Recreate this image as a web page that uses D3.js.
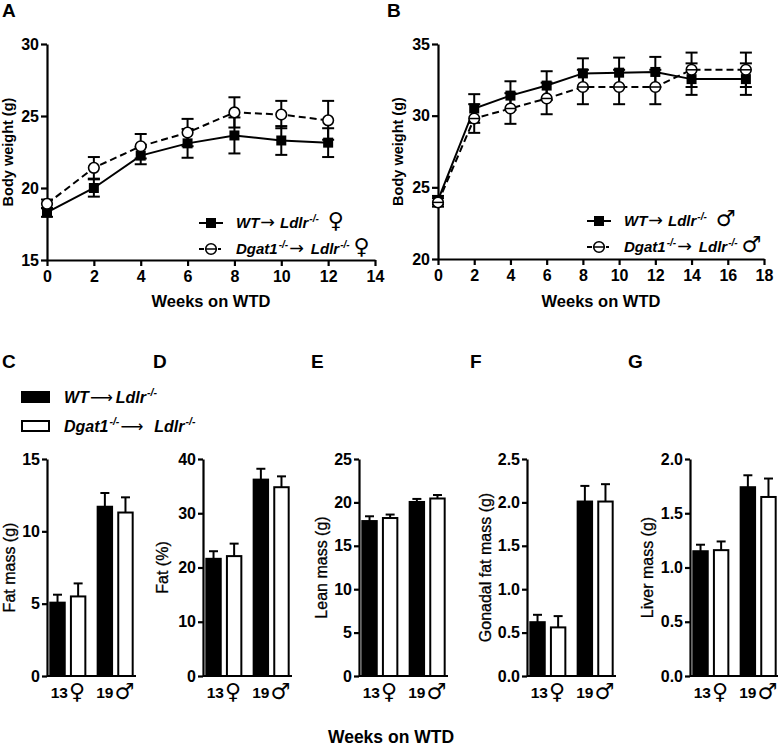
<!DOCTYPE html>
<html><head><meta charset="utf-8">
<script src="https://cdn.jsdelivr.net/npm/d3@7"></script>
<style>
html,body{margin:0;padding:0;background:#fff;}
svg{display:block;font-family:"Liberation Sans",Arial,sans-serif;}
</style></head>
<body>
<svg id="chart" width="778" height="746"></svg>
<script>
// ---------- DATA ----------
const weeksA = [0, 2, 4, 6, 8, 10, 12];
const wtA = [18.3, 20.0, 22.25, 23.1, 23.65, 23.3, 23.15];
const wtAErr = [0.3, 0.6, 0.6, 1.0, 1.25, 1.0, 1.0];
const dgA = [18.9, 21.4, 22.9, 23.85, 25.25, 25.1, 24.7];
const dgAErr = [0.3, 0.75, 0.85, 0.95, 1.05, 0.95, 1.35];

const weeksB = [0, 2, 4, 6, 8, 10, 12, 14, 17];
const wtB = [24.1, 30.5, 31.4, 32.1, 32.95, 33.0, 33.05, 32.55, 32.55];
const wtBErr = [0.3, 1.0, 1.0, 1.0, 1.05, 1.05, 1.05, 1.1, 1.1];
const dgB = [23.95, 29.8, 30.5, 31.2, 32.0, 32.0, 32.0, 33.2, 33.2];
const dgBErr = [0.3, 1.0, 1.07, 1.1, 1.2, 1.2, 1.2, 1.2, 1.2];

const xTicksA = [0, 2, 4, 6, 8, 10, 12, 14];
const yTicksA = [15, 20, 25, 30];
const xTicksB = [0, 2, 4, 6, 8, 10, 12, 14, 16, 18];
const yTicksB = [20, 25, 30, 35];

const barGroups = ["13", "19"];
const barSex = ["\u2640", "\u2642"];
const barSeries = ["wt", "dg"];

const fatMassWT = [5.07, 11.7], fatMassWTErr = [0.55, 0.95];
const fatMassDG = [5.5, 11.3], fatMassDGErr = [0.9, 1.05];
const fatPctWT = [21.6, 36.2], fatPctWTErr = [1.4, 2.0];
const fatPctDG = [22.1, 34.8], fatPctDGErr = [2.3, 2.0];
const leanWT = [17.85, 20.05], leanWTErr = [0.55, 0.35];
const leanDG = [18.2, 20.45], leanDGErr = [0.4, 0.4];
const gonWT = [0.62, 2.01], gonWTErr = [0.085, 0.18];
const gonDG = [0.56, 2.01], gonDGErr = [0.13, 0.2];
const liverWT = [1.15, 1.74], liverWTErr = [0.06, 0.11];
const liverDG = [1.16, 1.65], liverDGErr = [0.08, 0.17];

const ticksC = [0, 5, 10, 15];
const ticksD = [0, 10, 20, 30, 40];
const ticksE = [0, 5, 10, 15, 20, 25];
const ticksF = [0, 0.5, 1.0, 1.5, 2.0, 2.5];
const ticksG = [0, 0.5, 1.0, 1.5, 2.0];

// ---------- DRAW ----------
const svg = d3.select("#chart");
const FONT = "Liberation Sans, Arial, sans-serif";
const SYM = "DejaVu Sans";

function labelText(g, x, y, txt) {
  g.append("text").attr("x", x).attr("y", y).attr("font-size", 19)
    .attr("font-weight", "bold").attr("font-family", FONT).text(txt);
}

// Appends "WT→ Ldlr-/-" or "Dgat1-/-→  Ldlr-/-" to a text element
function genotype(t, isDgat, c) {
  const arrow = (dx) => t.append("tspan").text(c.arrow).attr("font-family", SYM).attr("font-style", "normal")
    .attr("font-weight", "normal").attr("font-size", c.arrowSize).attr("dx", dx);
  if (isDgat) {
    t.append("tspan").text("Dgat1");
    t.append("tspan").text("-/-").attr("font-size", c.sup).attr("dy", -c.supDy).attr("dx", 1);
    arrow(1).attr("dy", c.supDy);
    t.append("tspan").text("Ldlr").attr("dx", c.gap2);
  } else {
    t.append("tspan").text("WT");
    arrow(1);
    t.append("tspan").text("Ldlr").attr("dx", c.gap1);
  }
  t.append("tspan").text("-/-").attr("font-size", c.sup).attr("dy", -c.supDy).attr("dx", 1);
}

function linePanel(opt) {
  const g = svg.append("g");
  const x = d3.scaleLinear().domain(opt.xDomain).range([opt.left, opt.right]);
  const y = d3.scaleLinear().domain(opt.yDomain).range([opt.bottom, opt.top]);

  const xa = g.append("g").attr("transform", `translate(0,${opt.bottom})`)
    .call(d3.axisBottom(x).tickValues(opt.xTicks).tickSize(6).tickSizeOuter(0).tickPadding(5));
  const ya = g.append("g").attr("transform", `translate(${opt.left},0)`)
    .call(d3.axisLeft(y).tickValues(opt.yTicks).tickSize(6).tickSizeOuter(0).tickPadding(2));
  [xa, ya].forEach(a => {
    a.select(".domain").attr("stroke", "#000").attr("stroke-width", 2.2);
    a.selectAll(".tick line").attr("stroke", "#000").attr("stroke-width", 2.2);
    a.selectAll(".tick text").attr("font-size", 16).attr("font-weight", "bold")
      .attr("font-family", FONT).attr("fill", "#000");
  });

  g.append("text").attr("x", (opt.left + opt.right) / 2).attr("y", 307)
    .attr("text-anchor", "middle").attr("font-size", 16.5).attr("font-weight", "bold")
    .attr("font-family", FONT).text("Weeks on WTD");
  g.append("text").attr("transform", `translate(${opt.ytX},${(opt.top + opt.bottom) / 2}) rotate(-90)`)
    .attr("text-anchor", "middle").attr("font-size", 14.5).attr("font-weight", "bold")
    .attr("font-family", FONT).text("Body weight (g)");

  const series = [
    { xs: opt.weeks, v: opt.wt, e: opt.wtErr, dash: null, mk: "sq" },
    { xs: opt.weeks, v: opt.dg, e: opt.dgErr, dash: "7,4", mk: "ci" }
  ];
  const line = d3.line().x(d => x(d[0])).y(d => y(d[1]));
  series.forEach(s => {
    const pts = s.xs.map((w, i) => [w, s.v[i], s.e[i]]);
    g.append("path").datum(pts).attr("d", line).attr("fill", "none")
      .attr("stroke", "#000").attr("stroke-width", 2)
      .attr("stroke-dasharray", s.dash);
    s.pts = pts;
  });
  series.forEach(s => {
    const eb = g.append("g").attr("stroke", "#000").attr("stroke-width", 2);
    s.pts.forEach(p => {
      const cx = x(p[0]), y1 = y(p[1] + p[2]), y2 = y(p[1] - p[2]);
      eb.append("line").attr("x1", cx).attr("x2", cx).attr("y1", y1).attr("y2", y2);
      eb.append("line").attr("x1", cx - 6).attr("x2", cx + 6).attr("y1", y1).attr("y2", y1);
      eb.append("line").attr("x1", cx - 6).attr("x2", cx + 6).attr("y1", y2).attr("y2", y2);
    });
  });
  series.forEach(s => {
    s.pts.forEach(p => {
      const cx = x(p[0]), cy = y(p[1]);
      if (s.mk === "sq") {
        g.append("rect").attr("x", cx - 5).attr("y", cy - 5).attr("width", 10).attr("height", 10).attr("fill", "#000");
      } else {
        g.append("circle").attr("cx", cx).attr("cy", cy).attr("r", 5.3)
          .attr("fill", "#fff").attr("stroke", "#000").attr("stroke-width", 1.6);
        if (opt.bar) g.append("line").attr("x1", cx - 5).attr("x2", cx + 5).attr("y1", cy).attr("y2", cy)
          .attr("stroke", "#000").attr("stroke-width", 1.5);
      }
    });
  });

  // legend
  const lg = g.append("g").attr("font-family", FONT);
  const rows = [opt.legY, opt.legY + 26];
  lg.append("line").attr("x1", opt.legX).attr("x2", opt.legX + 24).attr("y1", rows[0]).attr("y2", rows[0])
    .attr("stroke", "#000").attr("stroke-width", 2);
  lg.append("rect").attr("x", opt.legX + 7).attr("y", rows[0] - 5).attr("width", 10).attr("height", 10).attr("fill", "#000");
  lg.append("line").attr("x1", opt.legX).attr("x2", opt.legX + 5).attr("y1", rows[1]).attr("y2", rows[1])
    .attr("stroke", "#000").attr("stroke-width", 2);
  lg.append("line").attr("x1", opt.legX + 19).attr("x2", opt.legX + 22).attr("y1", rows[1]).attr("y2", rows[1])
    .attr("stroke", "#000").attr("stroke-width", 2);
  lg.append("circle").attr("cx", opt.legX + 12).attr("cy", rows[1]).attr("r", 5.3)
    .attr("fill", "#fff").attr("stroke", "#000").attr("stroke-width", 1.6);
  lg.append("line").attr("x1", opt.legX + 7).attr("x2", opt.legX + 17).attr("y1", rows[1]).attr("y2", rows[1])
    .attr("stroke", "#000").attr("stroke-width", 1.5);

  [0, 1].forEach(r => {
    const t = lg.append("text").attr("x", opt.legTX).attr("y", rows[r] + 5)
      .attr("font-size", 15).attr("font-weight", "bold").attr("font-style", "italic");
    genotype(t, r === 1, { sup: 10, supDy: 6, arrow: "\u2192", arrowSize: 17.5, gap1: 5, gap2: 7 });
    t.append("tspan").text(opt.sex).attr("font-size", 22).attr("font-style", "normal")
      .attr("font-weight", "normal").attr("dy", 6).attr("dx", r === 0 ? 9 : 4).attr("font-family", SYM);
  });
}

linePanel({ left: 47, right: 375, top: 44, bottom: 260, xDomain: [0, 14], yDomain: [15, 30],
  xTicks: xTicksA, yTicks: yTicksA, weeks: weeksA, wt: wtA, wtErr: wtAErr, dg: dgA, dgErr: dgAErr,
  ytX: 13, legX: 199, legTX: 236, legY: 223, sex: "\u2640", bar: false });
linePanel({ left: 438, right: 764, top: 44, bottom: 259, xDomain: [0, 18], yDomain: [20, 35],
  xTicks: xTicksB, yTicks: yTicksB, weeks: weeksB, wt: wtB, wtErr: wtBErr, dg: dgB, dgErr: dgBErr,
  ytX: 403, legX: 587, legTX: 624, legY: 221, sex: "\u2642", bar: true });

labelText(svg, 2, 17, "A");
labelText(svg, 387, 17, "B");

// ---------- BAR PANELS ----------
const barTop = 459, barBottom = 676, barW = 89;
function barPanel(p) {
  const g = svg.append("g");
  const x0 = d3.scaleBand().domain(barGroups).range([p.left, p.left + barW]).paddingInner(0.26).paddingOuter(0.07);
  const x1 = d3.scaleBand().domain(barSeries).range([0, x0.bandwidth()]).paddingInner(0.3);
  const y = d3.scaleLinear().domain([0, p.max]).range([barBottom, barTop]);
  const vals = { wt: [p.wt, p.wtE], dg: [p.dg, p.dgE] };

  barGroups.forEach((grp, gi) => {
    barSeries.forEach(s => {
      const v = vals[s][0][gi], e = vals[s][1][gi];
      const bx = x0(grp) + x1(s), bw = x1.bandwidth();
      const cx = bx + bw / 2;
      g.append("line").attr("x1", cx).attr("x2", cx).attr("y1", y(v)).attr("y2", y(v + e))
        .attr("stroke", "#000").attr("stroke-width", 2);
      g.append("line").attr("x1", cx - 4.5).attr("x2", cx + 4.5).attr("y1", y(v + e)).attr("y2", y(v + e))
        .attr("stroke", "#000").attr("stroke-width", 2);
      g.append("rect").attr("x", bx).attr("y", y(v)).attr("width", bw).attr("height", barBottom - y(v))
        .attr("fill", s === "wt" ? "#000" : "#fff").attr("stroke", "#000").attr("stroke-width", 2);
    });
    const tx = g.append("text").attr("x", x0(grp) + x0.bandwidth() / 2).attr("y", 698)
      .attr("text-anchor", "middle").attr("font-family", FONT).attr("font-weight", "bold").attr("font-size", 15.5);
    tx.append("tspan").text(grp);
    tx.append("tspan").text(barSex[gi]).attr("font-family", SYM).attr("font-weight", "normal")
      .attr("font-size", 22).attr("dy", 1).attr("dx", 1);
  });

  const ya = g.append("g").attr("transform", `translate(${p.left},0)`)
    .call(d3.axisLeft(y).tickValues(p.ticks).tickSize(5).tickSizeOuter(0).tickPadding(2)
      .tickFormat(p.fmt ? d3.format(p.fmt) : d3.format("d")));
  ya.select(".domain").attr("stroke", "#000").attr("stroke-width", 2.2);
  ya.selectAll(".tick line").attr("stroke", "#000").attr("stroke-width", 2.2);
  ya.selectAll(".tick text").attr("font-size", 16).attr("font-weight", "bold")
    .attr("font-family", FONT).attr("fill", "#000");
  g.append("line").attr("x1", p.left).attr("x2", p.left + barW).attr("y1", barBottom).attr("y2", barBottom)
    .attr("stroke", "#000").attr("stroke-width", 2.2);

  g.append("text").attr("transform", `translate(${p.ytX},${(barTop + barBottom) / 2}) rotate(-90)`)
    .attr("text-anchor", "middle").attr("font-size", 16).attr("font-family", FONT)
    .attr("stroke", "#000").attr("stroke-width", 0.3).text(p.title);
  labelText(svg, p.lx, 368, p.label);
}

barPanel({ left: 47, max: 15, ticks: ticksC, wt: fatMassWT, wtE: fatMassWTErr, dg: fatMassDG, dgE: fatMassDGErr,
  title: "Fat mass (g)", ytX: 15, label: "C", lx: 2 });
barPanel({ left: 203, max: 40, ticks: ticksD, wt: fatPctWT, wtE: fatPctWTErr, dg: fatPctDG, dgE: fatPctDGErr,
  title: "Fat (%)", ytX: 168, label: "D", lx: 153 });
barPanel({ left: 359, max: 25, ticks: ticksE, wt: leanWT, wtE: leanWTErr, dg: leanDG, dgE: leanDGErr,
  title: "Lean mass (g)", ytX: 327, label: "E", lx: 311 });
barPanel({ left: 527, max: 2.5, ticks: ticksF, fmt: ".1f", wt: gonWT, wtE: gonWTErr, dg: gonDG, dgE: gonDGErr,
  title: "Gonadal fat mass (g)", ytX: 491, label: "F", lx: 470 });
barPanel({ left: 690, max: 2.0, ticks: ticksG, fmt: ".1f", wt: liverWT, wtE: liverWTErr, dg: liverDG, dgE: liverDGErr,
  title: "Liver mass (g)", ytX: 653, label: "G", lx: 628 });

svg.append("text").attr("x", 391).attr("y", 743).attr("text-anchor", "middle")
  .attr("font-size", 17.5).attr("font-weight", "bold").attr("font-family", FONT).text("Weeks on WTD");

// bar legend
const bl = svg.append("g").attr("font-family", FONT);
bl.append("rect").attr("x", 21).attr("y", 391).attr("width", 29).attr("height", 12).attr("fill", "#000");
bl.append("rect").attr("x", 22).attr("y", 421).attr("width", 27).attr("height", 10).attr("fill", "#fff")
  .attr("stroke", "#000").attr("stroke-width", 2);
[0, 1].forEach(r => {
  const t = bl.append("text").attr("x", 64).attr("y", r === 0 ? 403 : 432).attr("font-size", 16)
    .attr("font-weight", "bold").attr("font-style", "italic");
  genotype(t, r === 1, { sup: 10.5, supDy: 7, arrow: "\u27F6", arrowSize: 16, gap1: 3, gap2: 11 });
});
</script>
</body></html>
